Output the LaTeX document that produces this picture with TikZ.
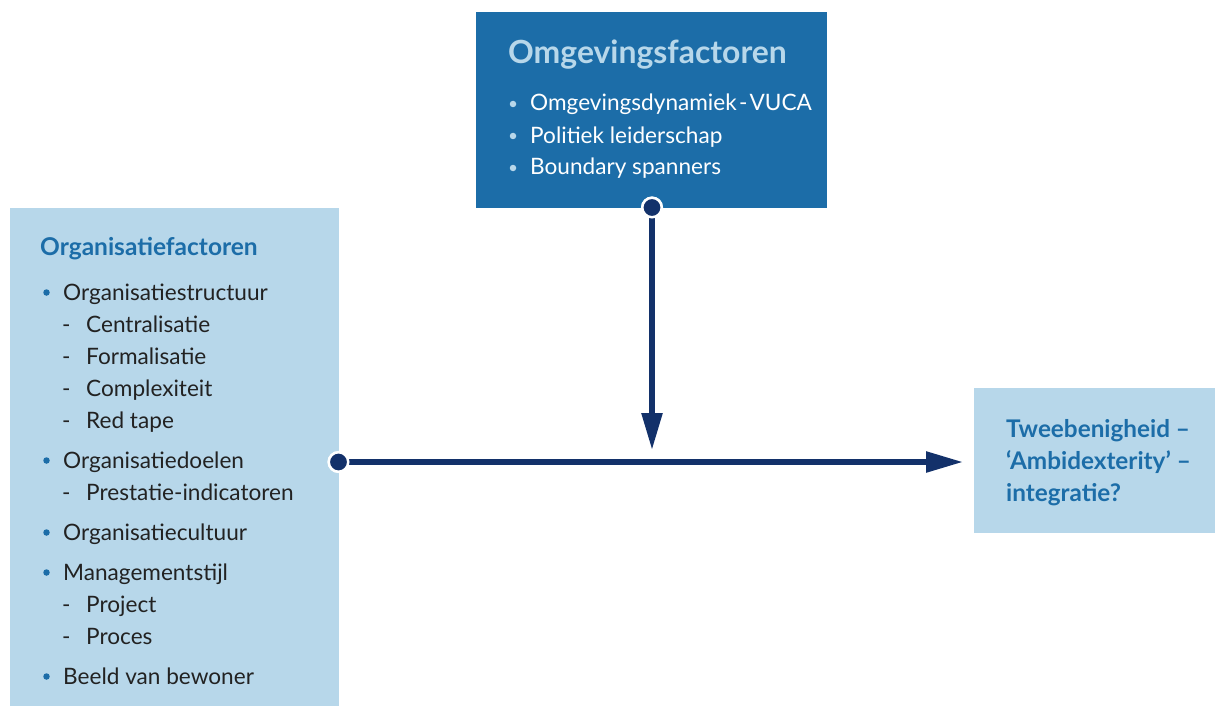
\documentclass[tikz,border=0pt]{standalone}
\usepackage{fontspec}
\setmainfont{Lato}
\usetikzlibrary{arrows.meta}
\definecolor{deepblue}{HTML}{1C6DA8}
\definecolor{paleblue}{HTML}{B7D7EA}
\definecolor{navy}{HTML}{13316A}
\definecolor{ink}{HTML}{222222}
\tikzset{
  txt/.style={anchor=base west, inner sep=0pt, font=\fontsize{22.6}{26}\selectfont, text=ink},
  toptxt/.style={txt, text=white},
  bulletdot/.style={circle, fill=#1, inner sep=0pt, minimum size=6.5pt},
  dashmark/.style={txt},
  joint/.style={circle, fill=navy, draw=white, line width=2.5pt, inner sep=0pt, minimum size=19.5pt},
  link/.style={navy, line width=5.5pt, -{Triangle[length=37pt,width=20pt]}},
}
\begin{document}
\begin{tikzpicture}[x=1pt,y=-1pt]
\useasboundingbox (0,0) rectangle (1215,706);

% boxes
\fill[deepblue] (476,12) rectangle (827,208);
\fill[paleblue] (10,208) rectangle (339,706);
\fill[paleblue] (974,388) rectangle (1215,533);

% top box: environment factors
\node[anchor=base west, inner sep=0pt, font=\fontsize{31.9}{36}\selectfont\bfseries, text=paleblue] (ot) at (508,64) {Omgevingsfactoren};
\foreach \t [count=\i] in {Omgevingsdynamiek\hspace{0.1em}-\hspace{0.1em}VUCA, Politiek leiderschap, Boundary spanners}{
  \node[toptxt] (o\i) at (530,79+32*\i) {\t};
  \node[bulletdot=paleblue] (ob\i) at (513,72+32*\i) {};
}

% left box: organisation factors
\node[anchor=base west, inner sep=0pt, font=\fontsize{24.5}{28}\selectfont\bfseries, text=deepblue] (lt) at (40,255) {Organisatiefactoren};
\foreach \t/\y [count=\i] in {Organisatiestructuur/300, Organisatiedoelen/468, Organisatiecultuur/540, Managementstijl/580, Beeld van bewoner/684}{
  \node[txt] (m\i) at (63,\y) {\t};
  \node[bulletdot=deepblue] (mb\i) at (46.5,\y-7.5) {};
}
\foreach \t/\y [count=\i] in {Centralisatie/332, Formalisatie/364, Complexiteit/396, Red tape/428, Prestatie-indicatoren/500, Project/612, Proces/644}{
  \node[txt] (s\i) at (86,\y) {\t};
  \node[dashmark] (sd\i) at (62,\y) {-};
}

% right box: outcome (base anchor sits on the last line)
\node[anchor=base west, inner sep=0pt, align=left, font=\fontsize{24.3}{32}\selectfont\bfseries, text=deepblue] (res) at (1006,501)
  {Tweebenigheid –\\‘Ambidexterity’ –\\integratie?};

% connectors
\coordinate (tip) at (963,462);
\coordinate (vtip) at (652,450);
\node[joint] (js) at (338.5,462) {};
\node[joint] (jt) at (652,207.5) {};
\draw[link] (js.center) -- (tip);
\draw[link] (jt.center) -- (vtip);
\node[joint] (jsTop) at (js) {};
\node[joint] (jtTop) at (jt) {};
\end{tikzpicture}
\end{document}
